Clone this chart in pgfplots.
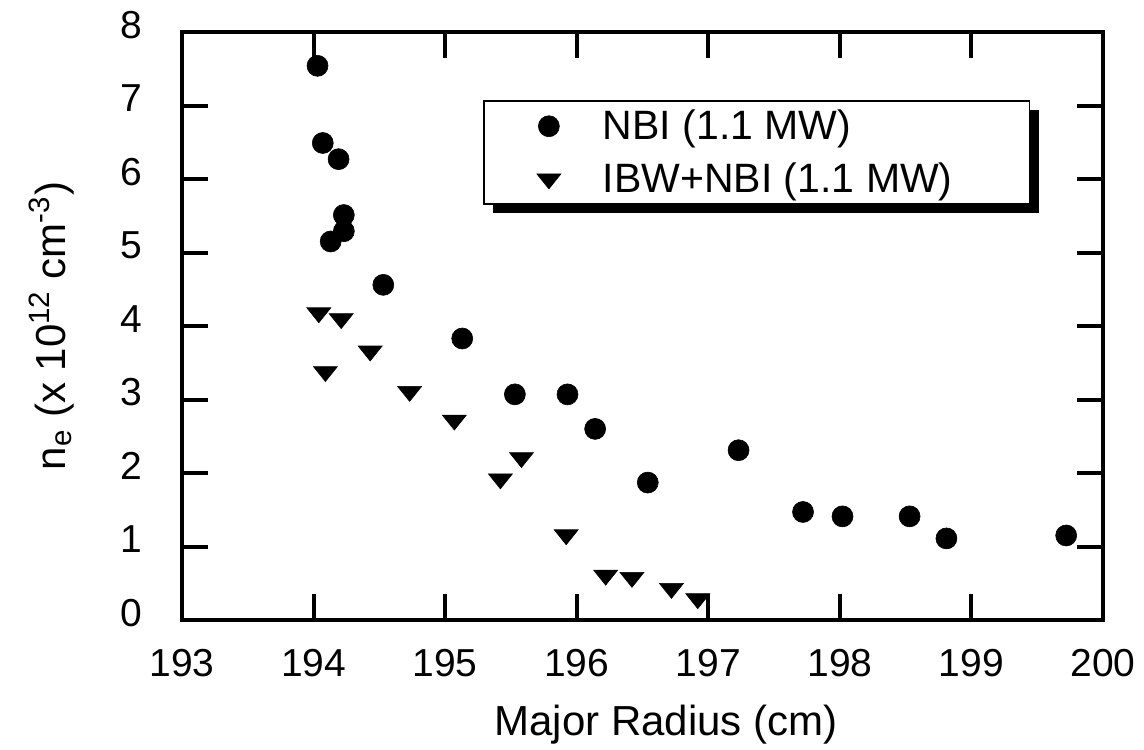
\documentclass[border=0pt]{standalone}
\usepackage{fontspec}
\setmainfont{Liberation Sans}
\usepackage{pgfplots}
\pgfplotsset{compat=1.18}
\usetikzlibrary{shadows}
\begin{document}
\begin{tikzpicture}
\begin{axis}[
  scale only axis, width=460.5pt, height=294pt,
  xmin=193, xmax=200, ymin=0, ymax=8,
  xtick={193,194,195,196,197,198,199,200}, ytick={0,1,2,3,4,5,6,7,8},
  line width=2pt,
  axis line style={line width=2pt},
  tick style={line width=2pt, black},
  major tick length=13pt,
  tick align=inside,
  /pgf/number format/assume math mode=true,
  /pgf/number format/1000 sep={},
  ticklabel style={font=\fontsize{19.5}{23}\selectfont, inner sep=0pt},
  xticklabel style={anchor=base, yshift=-28pt},
  yticklabel style={anchor=east, xshift=-19pt, yshift=3.5pt},
  xlabel={Major Radius (cm)},
  xlabel style={font=\fontsize{21}{25}\selectfont, at={(axis description cs:0.5255,0)}, anchor=base, yshift=-57.5pt, inner sep=0pt},
  ylabel={n\textsubscript{e} (x 10\textsuperscript{12} cm\textsuperscript{-3})},
  ylabel style={font=\fontsize{21}{25}\selectfont, at={(axis description cs:-0.127,0.5)}, anchor=base, inner sep=0pt},
  legend style={at={(axis description cs:0.3268,0.8844)}, anchor=north west,
    draw=black, line width=0.9pt, fill=white,
    inner xsep=26.5pt, inner ysep=4.5pt, row sep=10pt, column sep=21pt,
    font=\fontsize{20.5}{24}\selectfont,
    drop shadow={shadow xshift=4.5pt, shadow yshift=-4.5pt, fill=black, opacity=1},
    nodes={inner sep=0pt}},
  legend cell align=left,
  after end axis/.code={\draw[line width=2.2pt, black] (rel axis cs:0,0) rectangle (rel axis cs:1,1);},
]
\addplot[only marks, mark=*, mark size=5.25pt, mark options={fill=black, draw=black, line width=0.3pt}] coordinates {
(194.03,7.54) (194.07,6.49) (194.19,6.27) (194.23,5.51) (194.23,5.29) (194.13,5.15)
(194.53,4.56) (195.13,3.83) (195.53,3.07) (195.93,3.07) (196.14,2.60) (196.54,1.87)
(197.23,2.31) (197.72,1.47) (198.02,1.41) (198.53,1.41) (198.81,1.11) (199.72,1.15)
};
\addlegendentry{NBI (1.1 MW)}
\addplot[only marks, mark=triangle*, mark size=6.93pt, mark options={fill=black, draw=black, line width=0.3pt, rotate=180, yscale=0.72}] coordinates {
(194.04,4.18) (194.21,4.10) (194.09,3.38) (194.43,3.66) (194.73,3.11) (195.07,2.72)
(195.58,2.21) (195.42,1.92) (195.92,1.16) (196.22,0.61) (196.42,0.58) (196.72,0.43)
(196.92,0.29)
};
\addlegendentry{IBW+NBI (1.1 MW)\rule{12pt}{0pt}}
\end{axis}
\pgfresetboundingbox
\path[use as bounding box] (-91pt,-64.5pt) rectangle (481pt,310pt);
\end{tikzpicture}
\end{document}
